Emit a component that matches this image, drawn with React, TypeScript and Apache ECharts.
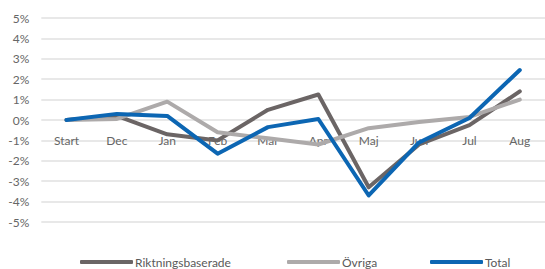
import React, { useEffect, useRef } from "react";
import * as echarts from "echarts";

const categories = ["Start", "Dec", "Jan", "Feb", "Mar", "Apr", "Maj", "Jun", "Jul", "Aug"];
const riktningsbaserade = [0, 0.2, -0.7, -1.0, 0.5, 1.25, -3.3, -1.2, -0.25, 1.4];
const ovriga = [0, 0.05, 0.9, -0.6, -0.9, -1.2, -0.4, -0.1, 0.15, 1.0];
const total = [0, 0.3, 0.2, -1.65, -0.35, 0.05, -3.7, -1.1, 0.1, 2.45];
const seriesNames = ["Riktningsbaserade", "Övriga", "Total"];
const colors = ["#6b6565", "#adaaaa", "#0c66b3"];
const legendLefts = [75, 282, 425];

export default function App() {
  const ref = useRef<HTMLDivElement>(null);
  useEffect(() => {
    if (!ref.current) return;
    const chart = echarts.init(ref.current, null, { renderer: "svg" });
    const font = "Lato";
    const data = [riktningsbaserade, ovriga, total];
    chart.setOption({
      animation: false,
      textStyle: { fontFamily: font },
      grid: { left: 41.3, right: -10.7, top: 18, bottom: 47, containLabel: false },
      legend: seriesNames.map((name, i) => ({
        bottom: -4,
        left: legendLefts[i],
        itemWidth: 53,
        itemHeight: 4,
        icon: "roundRect",
        textStyle: { color: "#595959", fontSize: 12, fontFamily: font, padding: [0, 0, 0, -3] },
        data: [name],
      })),
      xAxis: {
        type: "category",
        data: categories,
        boundaryGap: true,
        position: "bottom",
        offset: -102,
        axisLine: { show: false },
        axisTick: { show: false },
        axisLabel: { color: "#666", fontSize: 12, margin: 14, fontFamily: font },
      },
      yAxis: {
        type: "value",
        min: -5,
        max: 5,
        interval: 1,
        axisLine: { show: false },
        axisTick: { show: false },
        splitLine: { lineStyle: { color: "#e0e0e0", width: 1.5 } },
        axisLabel: {
          color: "#666",
          fontSize: 12,
          margin: 12,
          fontFamily: font,
          formatter: (v: number) => `${v}%`,
        },
      },
      series: seriesNames.map((name, i) => ({
        name,
        type: "line",
        data: data[i],
        symbol: "none",
        lineStyle: { color: colors[i], width: 4, cap: "round", join: "round" },
        itemStyle: { color: colors[i] },
        z: 2 + i,
      })),
    });
    return () => chart.dispose();
  }, []);
  return (
    <div
      ref={ref}
      style={{ position: "fixed", left: 0, top: 0, width: 545, height: 269, background: "#fff" }}
    />
  );
}
